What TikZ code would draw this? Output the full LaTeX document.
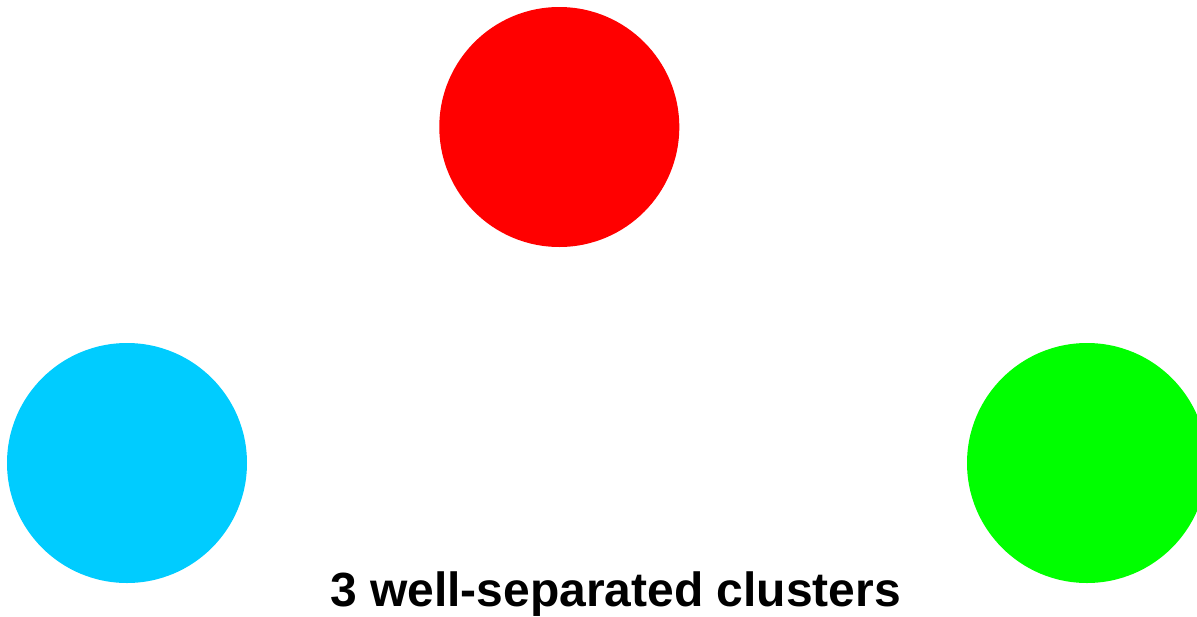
\documentclass[tikz,border=0pt]{standalone}
\usepackage{fontspec}
\setmainfont{Liberation Sans}
\definecolor{cred}{HTML}{FF0000}
\definecolor{ccyan}{HTML}{00CCFF}
\definecolor{cgreen}{HTML}{00FF00}
\begin{document}
\begin{tikzpicture}[x=1pt,y=-1pt,
  blob/.style={circle,inner sep=0pt,minimum size=240pt,draw=none},
  title/.style={font=\fontsize{48}{56}\selectfont\bfseries,inner sep=0pt,anchor=base}]
\useasboundingbox (0,0) rectangle (1197,616);
\node[blob,fill=cred] (red) at (559.3,127) {};
\node[blob,fill=ccyan] (cyan) at (127,463) {};
\node[blob,fill=cgreen] (green) at (1087,463) {};
\node[title] (lbl) at (615.5,606.5) {3 well-separated clusters};
\end{tikzpicture}
\end{document}
